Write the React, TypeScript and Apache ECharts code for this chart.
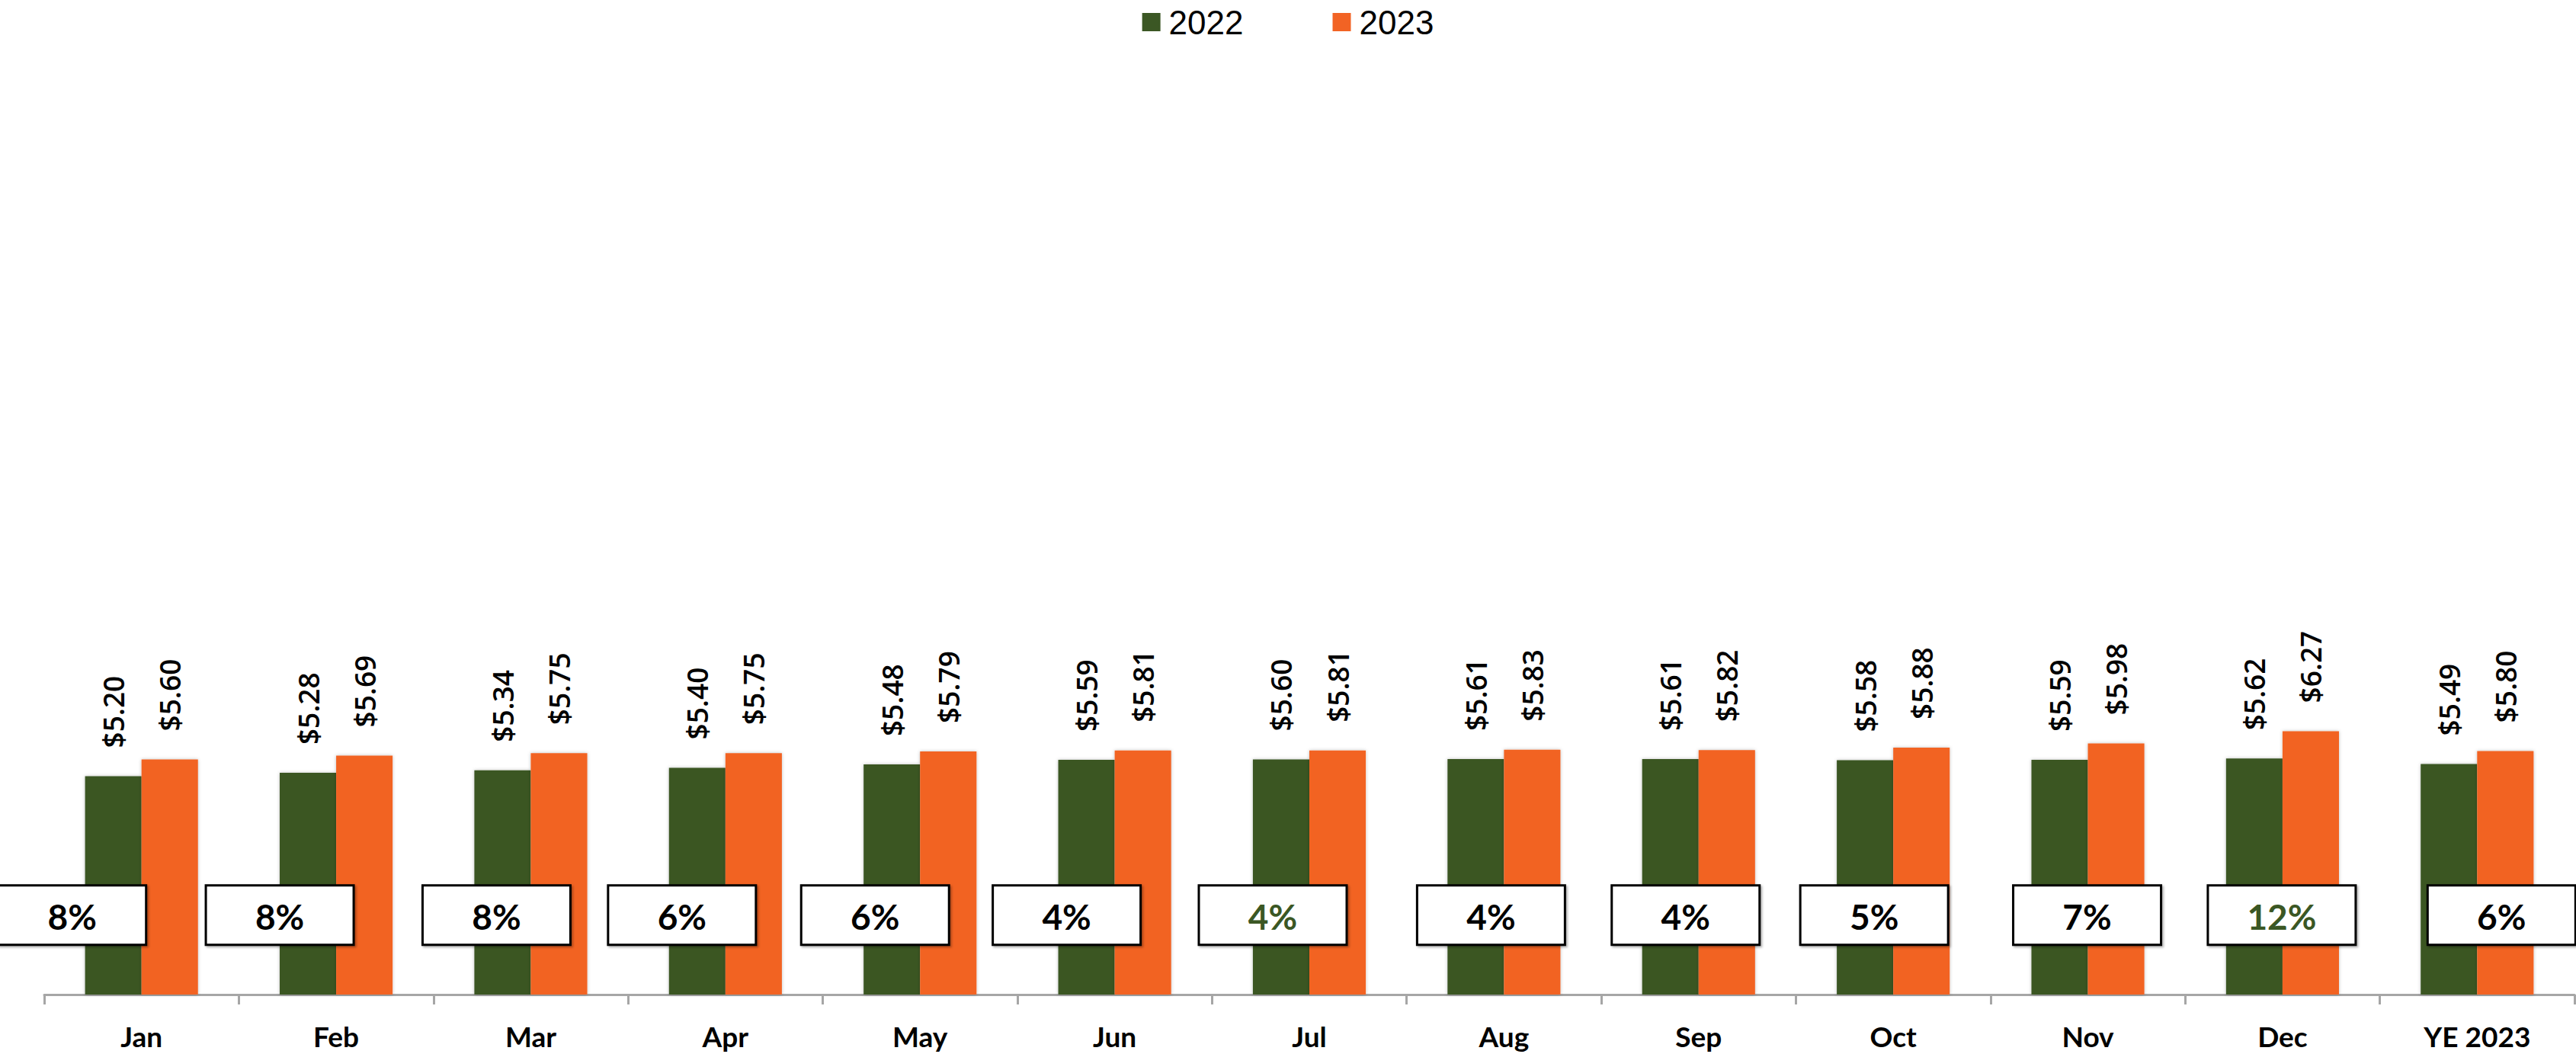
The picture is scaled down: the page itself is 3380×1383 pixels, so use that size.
import React, { useEffect, useRef } from "react";
import * as echarts from "echarts";

const categories = ["Jan", "Feb", "Mar", "Apr", "May", "Jun", "Jul", "Aug", "Sep", "Oct", "Nov", "Dec", "YE 2023"];
const values2022 = [5.2, 5.28, 5.34, 5.4, 5.48, 5.59, 5.6, 5.61, 5.61, 5.58, 5.59, 5.62, 5.49];
const values2023 = [5.6, 5.69, 5.75, 5.75, 5.79, 5.81, 5.81, 5.83, 5.82, 5.88, 5.98, 6.27, 5.8];
const growthPct = [8, 8, 8, 6, 6, 4, 4, 4, 4, 5, 7, 12, 6];
const highlighted = [false, false, false, false, false, false, true, false, false, false, false, true, false];

// style: horizontal offsets of the % boxes from their category centres (px)
const boxOffsetX = [-91, -74, -45, -57, -59, -63, -48, -17, -17, -25, -1, -1, 32];

const GREEN = "#3B5724";
const ORANGE = "#F26324";
const BOX_LEVEL = 1.89;

export default function App() {
  const ref = useRef<HTMLDivElement>(null);
  useEffect(() => {
    const chart = echarts.init(ref.current!, null, { renderer: "svg" });
    const valueLabel = {
      show: true,
      position: "top",
      rotate: 90,
      align: "left",
      verticalAlign: "middle",
      distance: 37,
      fontFamily: "Open Sans",
      fontWeight: 600,
      fontSize: 37,
      color: "#000",
      formatter: (p: any) => "$" + Number(p.value).toFixed(2),
    };
    chart.setOption({
      animation: false,
      backgroundColor: "#ffffff",
      legend: {
        top: 2,
        left: "center",
        icon: "rect",
        itemWidth: 24,
        itemHeight: 24,
        itemGap: 117,
        textStyle: { fontFamily: "Liberation Sans", fontSize: 44, color: "#000", padding: [0, 0, 0, 6] },
        data: ["2022", "2023"],
      },
      grid: { left: 58, right: 2, top: 203, bottom: 78, containLabel: false },
      xAxis: {
        type: "category",
        data: categories,
        axisLine: { lineStyle: { color: "#A6A6A6", width: 3 } },
        axisTick: { show: true, length: 13, lineStyle: { color: "#A6A6A6", width: 3 } },
        axisLabel: { interval: 0, fontFamily: "Lato", fontWeight: "bold", fontSize: 37, color: "#000", margin: 36 },
        splitLine: { show: false },
      },
      yAxis: { type: "value", min: 0, max: 20, show: false },
      series: [
        {
          name: "2022",
          type: "bar",
          data: values2022,
          barGap: "0%",
          barCategoryGap: "42%",
          itemStyle: { color: GREEN, shadowBlur: 4, shadowColor: "rgba(0,0,0,0.25)" },
          label: valueLabel,
        },
        {
          name: "2023",
          type: "bar",
          data: values2023,
          barGap: "0%",
          barCategoryGap: "42%",
          itemStyle: { color: ORANGE, shadowBlur: 4, shadowColor: "rgba(0,0,0,0.25)" },
          label: valueLabel,
        },
        {
          name: "growth",
          type: "custom",
          z: 10,
          data: growthPct.map((v, i) => [i, v]),
          encode: { x: 0 },
          renderItem: (params: any, api: any) => {
            const i = api.value(0);
            const p = api.coord([i, BOX_LEVEL]);
            const w = 194;
            const h = 78;
            const cx = p[0] + boxOffsetX[i];
            return {
              type: "group",
              children: [
                {
                  type: "rect",
                  shape: { x: cx - w / 2, y: p[1] - h / 2, width: w, height: h },
                  style: {
                    fill: "#ffffff",
                    stroke: "#000000",
                    lineWidth: 3,
                    shadowBlur: 3,
                    shadowOffsetX: 2,
                    shadowOffsetY: 2,
                    shadowColor: "rgba(0,0,0,0.3)",
                  },
                },
                {
                  type: "text",
                  x: cx,
                  y: p[1] + 2,
                  style: {
                    text: api.value(1) + "%",
                    fill: highlighted[i] ? GREEN : "#000000",
                    fontFamily: "Lato",
                    fontWeight: "bold",
                    fontSize: 46,
                    align: "center",
                    verticalAlign: "middle",
                  },
                },
              ],
            };
          },
        },
      ],
    });
    return () => chart.dispose();
  }, []);
  return <div ref={ref} style={{ position: "absolute", left: 0, top: 0, width: 3380, height: 1383 }} />;
}
